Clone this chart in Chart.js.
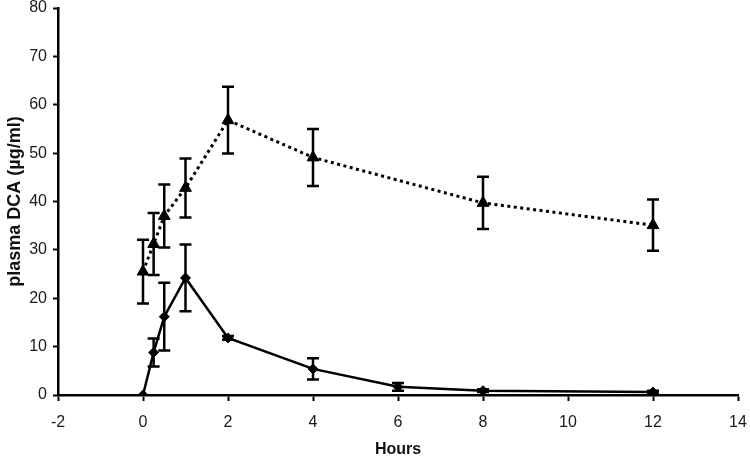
<!DOCTYPE html>
<html lang="en">
<head>
    <meta charset="UTF-8">
    <title>Plasma DCA</title>
    <script src="https://cdn.jsdelivr.net/npm/chart.js"></script>
    <style>
        body { margin: 0; background: #fff; }
    </style>
</head>
<body>
    <canvas id="dcaChart" width="750" height="458"></canvas>
    <script>
        // triangle series (dotted line)
        const timesA = [0, 0.25, 0.5, 1, 2, 4, 8, 12];
        const meanA = [25.5, 31.2, 37, 42.8, 56.8, 49.1, 39.7, 35.1];
        const errA = [6.6, 6.4, 6.5, 6.1, 6.9, 5.9, 5.4, 5.3];

        // diamond series (solid line)
        const timesB = [0, 0.25, 0.5, 1, 2, 4, 6, 8, 12];
        const meanB = [0, 8.8, 16.2, 24.2, 11.8, 5.4, 1.7, 0.9, 0.6];
        const errB = [0, 2.9, 7, 6.9, 0.4, 2.2, 0.8, 0.3, 0.3];

        const xTicks = [-2, 0, 2, 4, 6, 8, 10, 12, 14];
        const yTicks = [0, 10, 20, 30, 40, 50, 60, 70, 80];

        function toPoints(xs, ys) {
            return xs.map((x, i) => ({ x: x, y: ys[i] }));
        }

        // draws vertical error bars with caps, using the chart scales
        const errorBars = {
            id: 'errorBars',
            afterDatasetsDraw(chart) {
                const ctx = chart.ctx;
                const xs = chart.scales.x;
                const ys = chart.scales.y;
                ctx.save();
                ctx.strokeStyle = '#000';
                ctx.lineWidth = 2.5;
                chart.data.datasets.forEach(ds => {
                    ds.data.forEach((p, i) => {
                        const e = ds.errors[i];
                        if (!e) return;
                        const px = xs.getPixelForValue(p.x);
                        const top = ys.getPixelForValue(p.y + e);
                        const bot = ys.getPixelForValue(Math.max(p.y - e, 0));
                        ctx.beginPath();
                        ctx.moveTo(px, top);
                        ctx.lineTo(px, bot);
                        ctx.moveTo(px - 6, top);
                        ctx.lineTo(px + 6, top);
                        ctx.moveTo(px - 6, bot);
                        ctx.lineTo(px + 6, bot);
                        ctx.stroke();
                    });
                });
                ctx.restore();
            }
        };

        function fixBox(size) {
            return function(scale) {
                if (scale.isHorizontal()) scale.height = size;
                else scale.width = size;
                scale.paddingTop = 0;
                scale.paddingBottom = 0;
                scale.paddingLeft = 0;
                scale.paddingRight = 0;
            };
        }

        const ctx = document.getElementById('dcaChart').getContext('2d');
        new Chart(ctx, {
            type: 'line',
            data: {
                datasets: [{
                    label: 'A',
                    data: toPoints(timesA, meanA),
                    errors: errA,
                    borderColor: '#000',
                    backgroundColor: '#000',
                    borderWidth: 3,
                    borderDash: [3, 3.5],
                    pointStyle: 'triangle',
                    pointRadius: 6.8,
                    pointBorderWidth: 1,
                    tension: 0
                }, {
                    label: 'B',
                    data: toPoints(timesB, meanB),
                    errors: errB,
                    borderColor: '#000',
                    backgroundColor: '#000',
                    borderWidth: 2.5,
                    pointStyle: 'rectRot',
                    pointRadius: 5,
                    pointBorderWidth: 1,
                    tension: 0
                }]
            },
            options: {
                responsive: false,
                animation: false,
                layout: { padding: { top: 8, right: 12, left: 0, bottom: 0 } },
                plugins: {
                    legend: { display: false },
                    tooltip: { enabled: false }
                },
                scales: {
                    x: {
                        type: 'linear',
                        min: -2,
                        max: 14,
                        afterBuildTicks: s => { s.ticks = xTicks.map(v => ({ value: v })); },
                        afterFit: fixBox(63),
                        border: { color: '#000', width: 2.5 },
                        grid: { drawOnChartArea: false, color: '#000', tickLength: 6, tickWidth: 2 },
                        ticks: {
                            color: '#1a1a1a',
                            padding: 12,
                            maxRotation: 0,
                            font: { family: 'Liberation Sans, Arial, sans-serif', size: 16 }
                        },
                        title: {
                            display: true,
                            text: 'Hours',
                            color: '#111',
                            padding: 0,
                            font: { family: 'Liberation Sans, Arial, sans-serif', size: 16, weight: 'bold', lineHeight: 1 }
                        }
                    },
                    y: {
                        min: 0,
                        max: 80,
                        afterBuildTicks: s => { s.ticks = yTicks.map(v => ({ value: v })); },
                        afterFit: fixBox(58),
                        border: { color: '#000', width: 2.5 },
                        grid: { drawOnChartArea: false, color: '#000', tickLength: 5, tickWidth: 2 },
                        ticks: {
                            color: '#1a1a1a',
                            padding: 6,
                            font: { family: 'Liberation Sans, Arial, sans-serif', size: 16, lineHeight: 1 }
                        },
                        title: {
                            display: true,
                            text: 'plasma DCA (µg/ml)',
                            color: '#111',
                            padding: { top: 4, bottom: 0 },
                            font: { family: 'Liberation Sans, Arial, sans-serif', size: 18, weight: 'bold' }
                        }
                    }
                }
            },
            plugins: [errorBars]
        });
    </script>
</body>
</html>
